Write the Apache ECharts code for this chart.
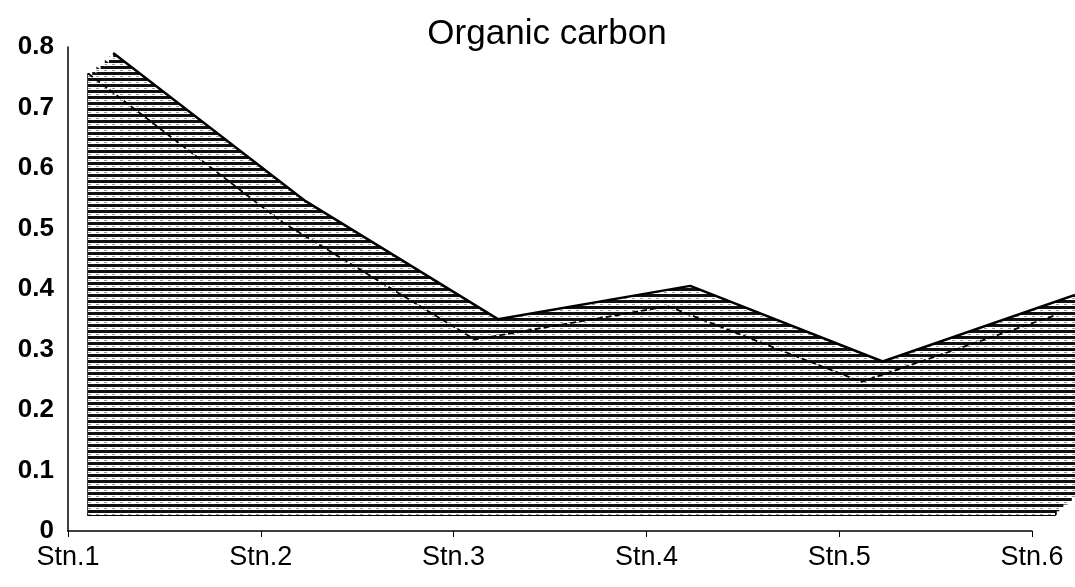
<!DOCTYPE html>
<html>
<head>
<meta charset="utf-8">
<script src="https://cdn.jsdelivr.net/npm/echarts@6/dist/echarts.min.js"></script>
<style>
html,body{margin:0;padding:0;background:#fff;}
#chart{width:1075px;height:587px;}
</style>
</head>
<body>
<div id="chart"></div>
<script>
// ---- data ----
const categories = ['Stn.1', 'Stn.2', 'Stn.3', 'Stn.4', 'Stn.5', 'Stn.6'];
const organicCarbon = [0.73, 0.485, 0.29, 0.345, 0.22, 0.33];
const yMin = 0, yMax = 0.8, yStep = 0.1;
const titleText = 'Organic carbon';

// ---- hatch pattern (horizontal lines) ----
function hatch() {
  const c = document.createElement('canvas');
  c.width = 8; c.height = 6;
  const g = c.getContext('2d');
  g.fillStyle = '#ffffff'; g.fillRect(0, 0, 8, 6);
  g.fillStyle = '#111111'; g.fillRect(0, 0, 8, 3);
  g.fillStyle = '#9a9a9a'; g.fillRect(0, 4, 3, 1);
  return c;
}
const pat = { image: hatch(), repeat: 'repeat' };

const chart = echarts.init(document.getElementById('chart'), null, { renderer: 'canvas' });

const FONT = 'Liberation Sans, Arial, sans-serif';
const grids = [{ left: 68, right: 43, top: 47, bottom: 56 }];
const xAxes = [{
  gridIndex: 0, type: 'category', data: categories, boundaryGap: false,
  axisLine: { lineStyle: { color: '#000', width: 1.5 } },
  axisTick: { show: true, length: 6, lineStyle: { color: '#000' } },
  axisLabel: { color: '#000', fontSize: 27, fontFamily: FONT, margin: 13 },
  splitLine: { show: false }
}];
const yAxes = [{
  gridIndex: 0, type: 'value', min: yMin, max: yMax, interval: yStep,
  axisLine: { show: true, lineStyle: { color: '#000', width: 1.5 } },
  axisTick: { show: false },
  axisLabel: { color: '#000', fontSize: 26, fontWeight: 'bold', fontFamily: FONT, margin: 14,
    formatter: v => v === 0 ? '0' : v.toFixed(1) },
  splitLine: { show: false }
}];
const series = [];

// extruded layers: k = 0 front ... LAYERS back
const LAYERS = 6;
for (let k = LAYERS; k >= 0; k--) {
  const dx = 4.2 * k, dy = 3.4 * k;
  const gi = grids.length;
  grids.push({ left: 88 + dx, right: 20 - dx, top: 31 - dy, bottom: 72 + dy });
  xAxes.push({
    gridIndex: gi, type: 'category', data: categories, boundaryGap: false,
    axisLine: { show: k === 0, lineStyle: { color: '#000', width: 2 } },
    axisTick: { show: false }, axisLabel: { show: false }, splitLine: { show: false }
  });
  yAxes.push({
    gridIndex: gi, type: 'value', min: yMin, max: yMax,
    axisLine: { show: false }, axisTick: { show: false }, axisLabel: { show: false }, splitLine: { show: false }
  });
  const s = {
    type: 'line', xAxisIndex: gi, yAxisIndex: gi, data: organicCarbon,
    showSymbol: false, silent: true, z: 2 + (LAYERS - k),
    areaStyle: { color: pat, opacity: 1 },
    lineStyle: { width: 0, color: '#000' }
  };
  if (k === LAYERS) s.lineStyle = { width: 2.5, color: '#000' };
  if (k === 0) {
    s.lineStyle = { width: 1.8, color: '#000', type: [6, 3] };
    s.markLine = {
      silent: true, symbol: 'none', label: { show: false },
      lineStyle: { color: '#000', width: 2.5, type: 'solid' },
      data: [
        [{ coord: [categories[0], 0] }, { coord: [categories[0], organicCarbon[0]] }],
        [{ coord: [categories[5], 0] }, { coord: [categories[5], organicCarbon[5]] }]
      ]
    };
  }
  series.push(s);
}

chart.setOption({
  backgroundColor: '#ffffff',
  animation: false,
  title: {
    text: titleText, left: 542, textAlign: 'center', top: 12,
    textStyle: { color: '#000', fontSize: 35, fontWeight: 'normal', fontFamily: FONT }
  },
  grid: grids,
  xAxis: xAxes,
  yAxis: yAxes,
  series: series
});
</script>
</body>
</html>
